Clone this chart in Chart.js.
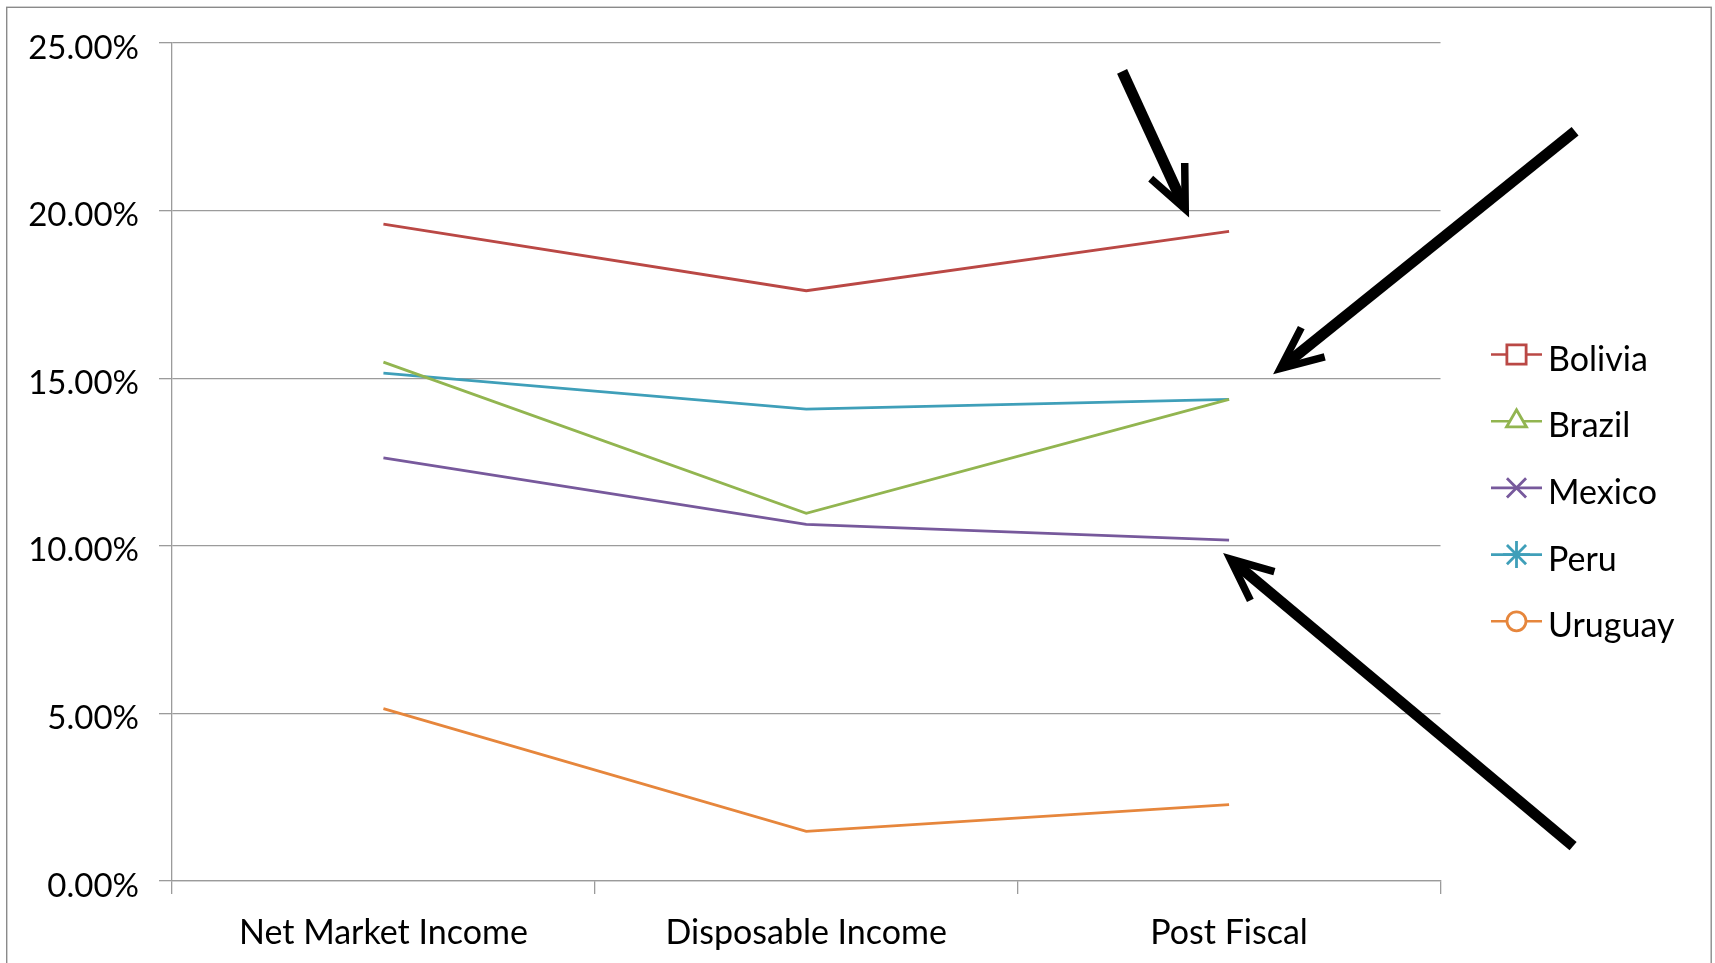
<!DOCTYPE html>
<html>
<head>
<meta charset="utf-8">
<title>Income concept comparison</title>
<script src="https://cdn.jsdelivr.net/npm/chart.js@4/dist/chart.umd.min.js"></script>
<style>
  html, body { margin: 0; padding: 0; background: #fff; }
  #wrap { width: 1715px; height: 963px; }
</style>
</head>
<body>
<div id="wrap"><canvas id="chart" width="1715" height="963"></canvas></div>
<script>
// Income concepts along the horizontal axis
const categories = ['Net Market Income', 'Disposable Income', 'Post Fiscal'];

// Share (%) per country at each income concept
const bolivia = [19.60, 17.61, 19.38];
const brazil  = [15.48, 10.97, 14.37];
const mexico  = [12.62, 10.64, 10.17];
const peru    = [15.15, 14.08, 14.37];
const uruguay = [5.14, 1.48, 2.28];

// Vertical axis range
const yMin = 0;
const yMax = 25;
const yStep = 5;

const FONT = 'Lato, "Open Sans", sans-serif';
const GRID = '#9b9b9b';

const series = [
  { label: 'Bolivia', data: bolivia, color: '#BA4845', pointStyle: 'rect',     r: 13.6 },
  { label: 'Brazil',  data: brazil,  color: '#92B550', pointStyle: 'triangle', r: 11.5 },
  { label: 'Mexico',  data: mexico,  color: '#77599C', pointStyle: 'crossRot', r: 13.5 },
  { label: 'Peru',    data: peru,    color: '#3F9FB9', pointStyle: 'star',     r: 13.5 },
  { label: 'Uruguay', data: uruguay, color: '#E6863C', pointStyle: 'circle',   r: 9.5 }
];

// Outer frame around the whole figure
const framePlugin = {
  id: 'frame',
  beforeDraw(chart) {
    const c = chart.ctx;
    c.save();
    c.fillStyle = '#fff';
    c.fillRect(0, 0, chart.width, chart.height);
    c.strokeStyle = '#8a8a8a';
    c.lineWidth = 1.4;
    c.strokeRect(6.7, 7.3, 1704.5, chart.height + 20);
    c.restore();
  }
};

// Legend: short line with the series marker in the middle, label to the right
const sideLegend = {
  id: 'sideLegend',
  afterDraw(chart, args, opts) {
    const c = chart.ctx;
    c.save();
    chart.data.datasets.forEach((ds, i) => {
      const y = opts.top + i * opts.spacing;
      c.strokeStyle = ds.borderColor;
      c.lineWidth = 2.6;
      c.beginPath();
      c.moveTo(opts.left, y);
      c.lineTo(opts.left + opts.lineLen, y);
      c.stroke();
      c.fillStyle = '#fff';
      c.strokeStyle = ds.borderColor;
      c.lineWidth = 2.8;
      Chart.helpers.drawPoint(c, {
        pointStyle: ds.legendStyle,
        radius: ds.legendRadius,
        rotation: 0,
        borderWidth: 2.8
      }, opts.left + opts.lineLen / 2, y);
      c.fillStyle = '#000';
      c.font = '34px ' + FONT;
      c.textAlign = 'left';
      c.textBaseline = 'alphabetic';
      c.fillText(ds.label, opts.left + opts.lineLen + 6, y + 16);
    });
    c.restore();
  }
};

// Callout arrows, anchored to a data point with offsets for tip and tail
const callouts = {
  id: 'callouts',
  afterDraw(chart, args, opts) {
    const c = chart.ctx;
    c.save();
    c.strokeStyle = '#000';
    opts.arrows.forEach(a => {
      const pt = chart.getDatasetMeta(a.series).data[a.index];
      const tipX = pt.x + a.tip[0], tipY = pt.y + a.tip[1];
      const tailX = pt.x + a.tail[0], tailY = pt.y + a.tail[1];
      const ang = Math.atan2(tipY - tailY, tipX - tailX);
      const ux = Math.cos(ang), uy = Math.sin(ang);
      const half = 24 * Math.PI / 180;
      const headW = 7.5;
      const miter = (headW / 2) / Math.sin(half);
      const gx = tipX - ux * miter, gy = tipY - uy * miter;
      // shaft
      c.lineCap = 'butt';
      c.lineWidth = 11;
      c.beginPath();
      c.moveTo(tailX, tailY);
      c.lineTo(gx - ux * 6, gy - uy * 6);
      c.stroke();
      // open head
      const back = ang + Math.PI;
      const L = 46;
      c.lineWidth = headW;
      c.lineJoin = 'miter';
      c.miterLimit = 10;
      c.beginPath();
      c.moveTo(gx + Math.cos(back - half) * L, gy + Math.sin(back - half) * L);
      c.lineTo(gx, gy);
      c.lineTo(gx + Math.cos(back + half) * L, gy + Math.sin(back + half) * L);
      c.stroke();
    });
    c.restore();
  }
};

const chart = new Chart(document.getElementById('chart'), {
  type: 'line',
  data: {
    labels: categories,
    datasets: series.map(s => ({
      label: s.label,
      data: s.data,
      borderColor: s.color,
      backgroundColor: s.color,
      borderWidth: 2.8,
      pointRadius: 0,
      pointHoverRadius: 0,
      tension: 0,
      fill: false,
      legendStyle: s.pointStyle,
      legendRadius: s.r
    }))
  },
  options: {
    responsive: false,
    animation: false,
    events: [],
    layout: { padding: { top: 43, right: 274.5, bottom: 0, left: 0 } },
    plugins: {
      legend: { display: false },
      tooltip: { enabled: false },
      sideLegend: { left: 1491, lineLen: 51, top: 354.5, spacing: 66.7 },
      callouts: {
        arrows: [
          { series: 0, index: 2, tip: [-40, -14], tail: [-107, -160] },
          { series: 3, index: 2, tip: [44, -25], tail: [346, -268] },
          { series: 2, index: 2, tip: [-6, 13], tail: [344, 306] }
        ]
      }
    },
    scales: {
      x: {
        offset: true,
        grid: {
          offset: true,
          drawOnChartArea: false,
          drawTicks: true,
          tickLength: 13,
          color: GRID,
          lineWidth: 1.3
        },
        border: { color: GRID, width: 1.3 },
        ticks: {
          color: '#000',
          font: { family: FONT, size: 34 },
          padding: 19,
          maxRotation: 0,
          autoSkip: false
        },
        afterFit(scale) { scale.height = 82; }
      },
      y: {
        min: yMin,
        max: yMax,
        grid: {
          color: GRID,
          lineWidth: 1.3,
          tickLength: 13
        },
        border: { color: GRID, width: 1.3 },
        ticks: {
          stepSize: yStep,
          color: '#000',
          font: { family: FONT, size: 33 },
          padding: 20,
          labelOffset: 5,
          callback: v => v.toFixed(2) + '%'
        },
        afterFit(scale) { scale.width = 172; }
      }
    }
  },
  plugins: [framePlugin, sideLegend, callouts]
});
</script>
</body>
</html>
